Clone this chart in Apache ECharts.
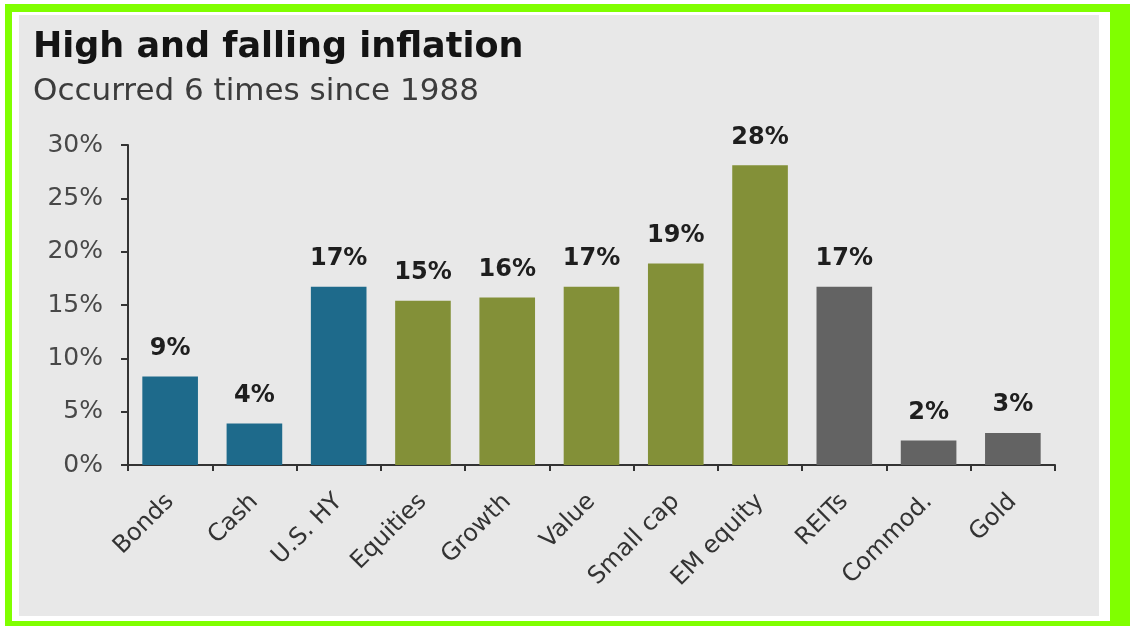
<!DOCTYPE html>
<html>
<head>
<meta charset="utf-8">
<script src="https://cdn.jsdelivr.net/npm/echarts@6/dist/echarts.min.js"></script>
<style>
html,body{margin:0;padding:0;background:#fff;}
#chart{width:1134px;height:626px;}
</style>
</head>
<body>
<div id="chart"></div>
<script>
const categories = ['Bonds','Cash','U.S. HY','Equities','Growth','Value','Small cap','EM equity','REITs','Commod.','Gold'];
const values = [8.3, 3.9, 16.7, 15.4, 15.7, 16.7, 18.9, 28.1, 16.7, 2.3, 3.0];
const valueLabels = ['9%','4%','17%','15%','16%','17%','19%','28%','17%','2%','3%'];
const groups = ['fixed','fixed','fixed','equity','equity','equity','equity','equity','real','real','real'];
const groupColors = {fixed:'#1e6a8b', equity:'#839038', real:'#636363'};
const yTicks = [0,5,10,15,20,25,30];

const chart = echarts.init(document.getElementById('chart'));
const FONT = 'DejaVu Sans, Liberation Sans, sans-serif';
chart.setOption({
  animation:false,
  textStyle:{fontFamily:FONT},
  graphic:[
    {type:'rect', z:-10, silent:true, shape:{x:5,y:4,width:1125,height:622}, style:{fill:'#80ff00'}},
    {type:'rect', z:-9, silent:true, shape:{x:12,y:12,width:1098,height:609}, style:{fill:'#ffffff'}},
    {type:'rect', z:-8, silent:true, shape:{x:19,y:15,width:1080,height:601}, style:{fill:'#e8e8e8'}},
    {type:'text', left:33, top:30, style:{text:'High and falling inflation', font:'bold 35px DejaVu Sans, sans-serif', fill:'#141414'}},
    {type:'text', left:33, top:76, style:{text:'Occurred 6 times since 1988', font:'31px DejaVu Sans, sans-serif', fill:'#3c3c3c'}}
  ],
  grid:{left:128, right:79, top:145, bottom:161, containLabel:false},
  xAxis:{
    type:'category', data:categories,
    axisLine:{lineStyle:{color:'#333', width:2}},
    axisTick:{show:true, alignWithLabel:false, length:6, lineStyle:{color:'#333', width:2}},
    axisLabel:{rotate:45, margin:33, fontSize:24, color:'#333', fontFamily:FONT, interval:0}
  },
  yAxis:{
    type:'value', min:0, max:30, interval:5,
    axisLine:{show:true, lineStyle:{color:'#333', width:2}},
    axisTick:{show:true, inside:false, length:7, lineStyle:{color:'#333', width:2}},
    splitLine:{show:false},
    axisLabel:{formatter:v=>yTicks.includes(v)?v+'%':'', margin:25, fontSize:25, color:'#484848', fontFamily:FONT}
  },
  series:[{
    type:'bar',
    barCategoryGap:'34%',
    data:values.map((v,i)=>({value:v, itemStyle:{color:groupColors[groups[i]]}})),
    label:{show:true, position:'top', distance:16, fontSize:24, fontWeight:'bold', color:'#1e1e1e', fontFamily:FONT,
      formatter:p=>valueLabels[p.dataIndex]}
  }]
});
</script>
</body>
</html>
